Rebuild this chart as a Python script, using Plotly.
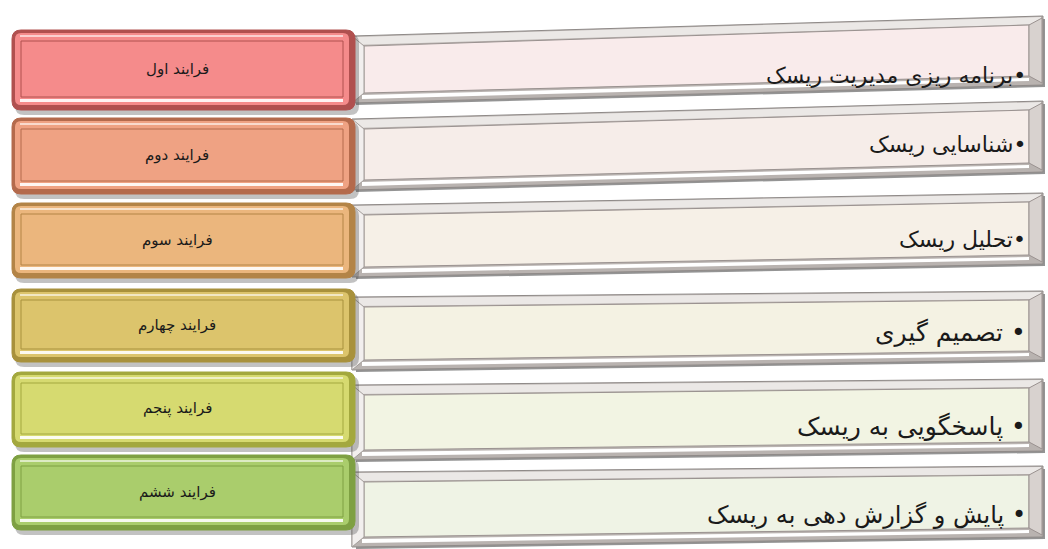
import plotly.graph_objects as go

# ---- content ----
steps = ["فرایند اول", "فرایند دوم", "فرایند سوم", "فرایند چهارم", "فرایند پنجم", "فرایند ششم"]
descriptions = ["برنامه ریزی مدیریت ریسک", "شناسایی ریسک", "تحلیل ریسک",
                "تصمیم گیری", "پاسخگویی به ریسک", "پایش و گزارش دهی به ریسک"]
bullet_gap = ["", "", "", " ", " ", " "]

# ---- styling / geometry ----
box_face = ["#f58b8b", "#efa283", "#ebb67d", "#dcc46c", "#d6da70", "#aacd6c"]
box_edge = ["#b0504f", "#b46a4c", "#b38447", "#a8913c", "#a3a83e", "#7ea042"]
panel_face = ["#f9ebeb", "#f6ede9", "#f6f0e7", "#f4f2e3", "#f2f4e3", "#eff3e5"]
box_top = [30, 118, 203, 289, 372, 455]
box_bot = [110, 194, 278, 362, 447, 530]
# panel corners: left-top, left-bottom, right-top, right-bottom
pan_lt = [36, 119, 205, 297, 385, 472]
pan_lb = [103, 190, 277, 370, 460, 547]
pan_rt = [16, 101, 193, 291, 379, 466]
pan_rb = [85, 172, 264, 360, 451, 537]
desc_y = [75, 144, 239, 333, 426, 515]
desc_size = [22, 22, 22, 25, 25, 24]

BX0, BX1 = 12, 355
PX0, PX1 = 352, 1045

fig = go.Figure()
shapes = []
annotations = []


def quad(x0, x1, lt, lb, rt, rb):
    return f"M {x0},{lt} L {x1},{rt} L {x1},{rb} L {x0},{lb} Z"


def rrect(x0, y0, x1, y1, r):
    return (f"M {x0+r},{y0} L {x1-r},{y0} Q {x1},{y0} {x1},{y0+r} L {x1},{y1-r} "
            f"Q {x1},{y1} {x1-r},{y1} L {x0+r},{y1} Q {x0},{y1} {x0},{y1-r} "
            f"L {x0},{y0+r} Q {x0},{y0} {x0+r},{y0} Z")


for i in range(len(steps)):
    # ---- right panel ----
    lt, lb, rt, rb = pan_lt[i], pan_lb[i], pan_rt[i], pan_rb[i]
    shapes.append(dict(type="path", path=quad(PX0 + 4, PX1, lt + 3, lb + 2, rt + 3, rb + 2),
                       fillcolor="rgba(60,60,60,0.55)", line=dict(width=0), layer="below"))
    shapes.append(dict(type="path", path=quad(PX0, PX1 - 2, lt, lb, rt, rb),
                       fillcolor="#b9b3b0", line=dict(color="#8f8a88", width=1), layer="below"))
    shapes.append(dict(type="path", path=quad(PX0 + 2, PX1 - 4, lt + 1, lt + 9, rt + 1, rt + 8),
                       fillcolor="#ebe8e6", line=dict(width=0), layer="below"))
    shapes.append(dict(type="path", path=quad(PX0 + 12, PX1 - 16, lt + 10, lb - 10, rt + 9, rb - 9),
                       fillcolor=panel_face[i], line=dict(color="#9a9290", width=1), layer="below"))
    shapes.append(dict(type="path", path=quad(PX0 + 10, PX1 - 16, lb - 8, lb - 4, rb - 7, rb - 4),
                       fillcolor="#ffffff", line=dict(width=0), layer="below"))
    shapes.append(dict(type="path",
                       path=f"M {PX1-16},{rt+9} L {PX1-3},{rt+2} L {PX1-3},{rb-2} L {PX1-16},{rb-9} Z",
                       fillcolor="#d8d2cf", line=dict(color="#9a9290", width=1), layer="below"))
    shapes.append(dict(type="path",
                       path=f"M {PX0},{lt} L {PX0+12},{lt+10} L {PX0+12},{lb-10} L {PX0},{lb} Z",
                       fillcolor="#f2efee", line=dict(color="#a39d9a", width=1), layer="below"))

    # ---- left box ----
    t, b = box_top[i], box_bot[i]
    shapes.append(dict(type="path", path=rrect(BX0 + 3, t + 4, BX1 + 4, b + 5, 9),
                       fillcolor="rgba(80,80,80,0.35)", line=dict(width=0), layer="below"))
    shapes.append(dict(type="path", path=rrect(BX0, t, BX1, b, 9),
                       fillcolor=box_edge[i], line=dict(color=box_edge[i], width=1), layer="below"))
    shapes.append(dict(type="path", path=rrect(BX0 + 3, t + 3, BX1 - 6, b - 5, 6),
                       fillcolor=box_face[i], line=dict(width=0), layer="below"))
    shapes.append(dict(type="rect", x0=BX0 + 9, x1=BX1 - 12, y0=t + 11, y1=b - 13,
                       fillcolor=box_face[i], line=dict(color=box_edge[i], width=1), layer="below"))
    shapes.append(dict(type="rect", x0=BX0 + 8, x1=BX1 - 12, y0=b - 11, y1=b - 8,
                       fillcolor="#ffffff", line=dict(width=0), opacity=0.9, layer="below"))
    shapes.append(dict(type="rect", x0=BX0 + 8, x1=BX1 - 12, y0=t + 5, y1=t + 7,
                       fillcolor="#ffffff", line=dict(width=0), opacity=0.6, layer="below"))

    annotations.append(dict(x=177, y=(t + b) / 2 - 1, text=steps[i],
                            showarrow=False, xref="x", yref="y",
                            font=dict(family="DejaVu Sans", size=15, color="#1a1a1a")))
    annotations.append(dict(x=1028, y=desc_y[i], text=descriptions[i] + bullet_gap[i] + "•",
                            showarrow=False, xref="x", yref="y", xanchor="right", yanchor="middle",
                            font=dict(family="DejaVu Sans", size=desc_size[i], color="#1a1a1a")))

fig.update_layout(
    width=1048, height=549,
    margin=dict(l=0, r=0, t=0, b=0),
    paper_bgcolor="white", plot_bgcolor="white",
    xaxis=dict(range=[0, 1048], visible=False, fixedrange=True),
    yaxis=dict(range=[549, 0], visible=False, fixedrange=True),
    shapes=shapes, annotations=annotations, showlegend=False,
)
fig.write_html("out.html", config={"displayModeBar": False},
               post_script="document.body.style.margin='0';document.body.style.overflow='hidden';")
